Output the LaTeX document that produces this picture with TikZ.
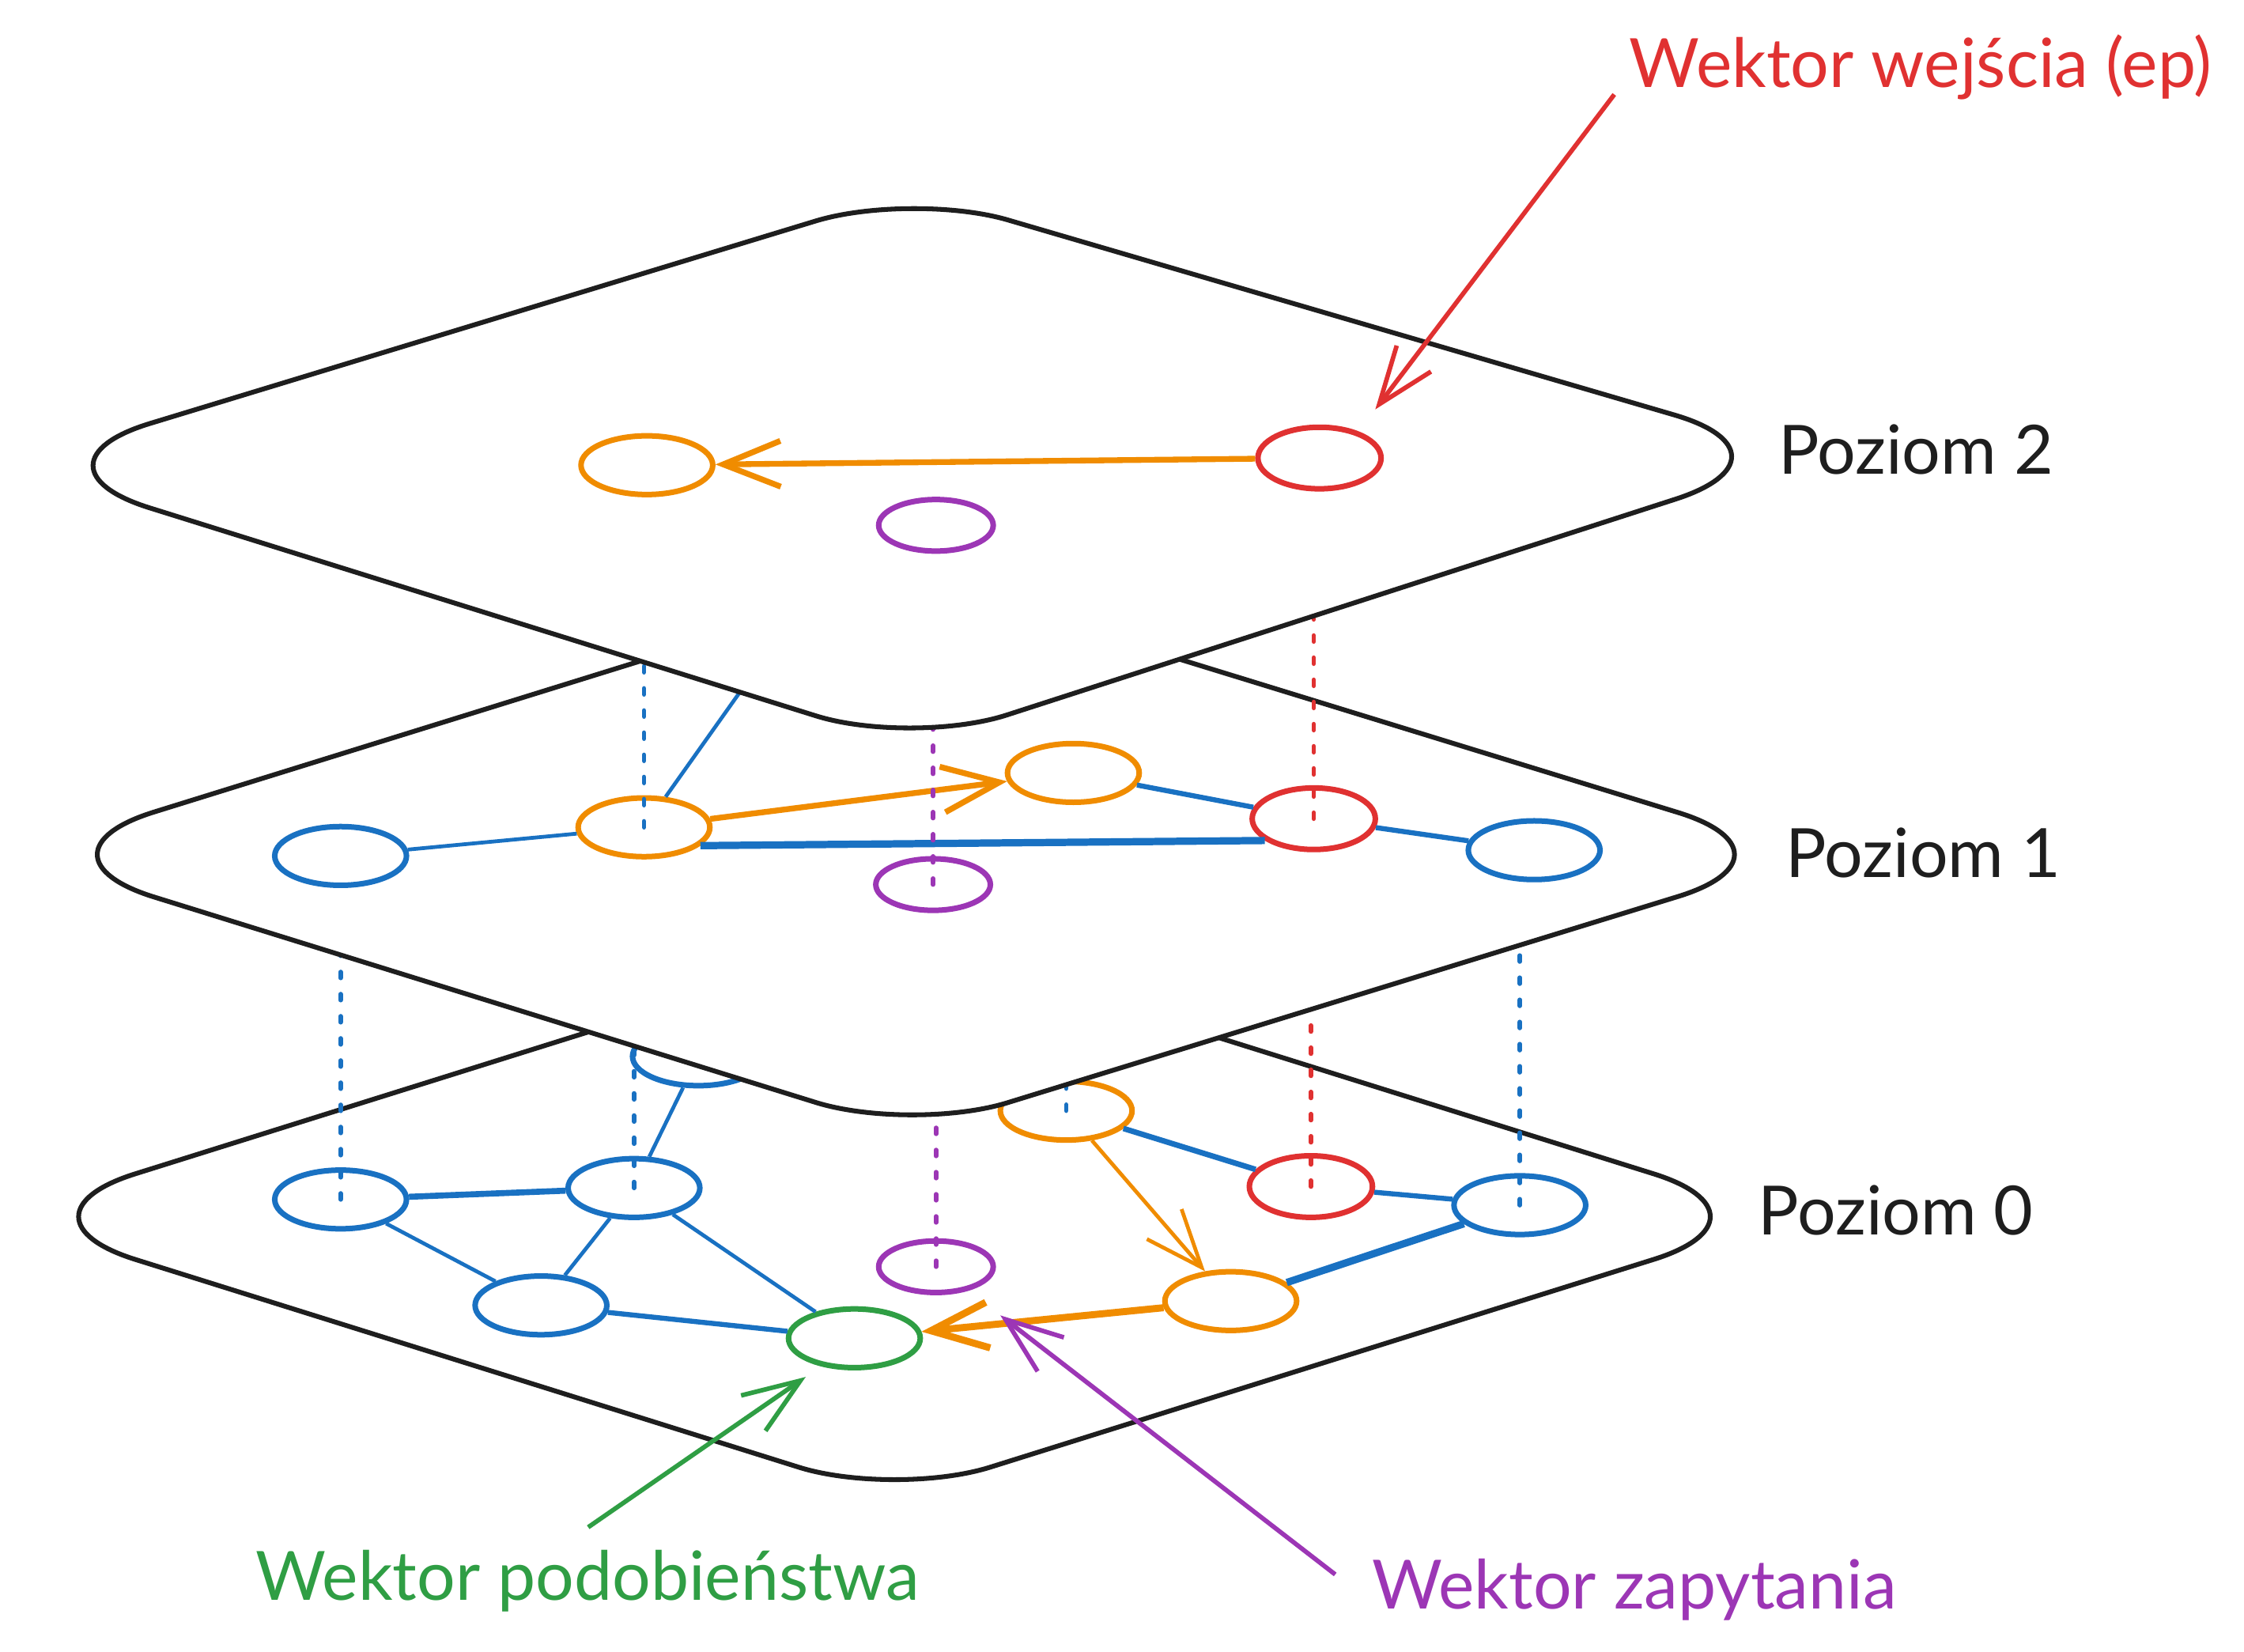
\documentclass[tikz,border=0pt]{standalone}
\usepackage{fontspec}
\setmainfont{Lato}
\usepackage{xcolor}
\usepackage{tikz}
\usetikzlibrary{arrows.meta,shapes.geometric,calc,backgrounds}
\definecolor{HInk}{HTML}{1E1E1E}
\definecolor{HBlue}{HTML}{1971C2}
\definecolor{HOrange}{HTML}{F08C00}
\definecolor{HRed}{HTML}{E03131}
\definecolor{HPurple}{HTML}{9C36B5}
\definecolor{HGreen}{HTML}{2F9E44}
\pgfdeclarelayer{lay0}
\pgfdeclarelayer{lay1}
\pgfsetlayers{lay0,lay1,main}

\begin{document}
\begin{tikzpicture}[
    x=0.01cm,y=-0.01cm,
    plane/.style={draw=HInk, fill=white, line width=0.95pt},
    side/.style={rounded corners=1cm},
    tip/.style={rounded corners=7mm},
    vec/.style={ellipse, draw, line width=1.1pt, minimum width=0.92cm, minimum height=0.41cm, inner sep=0pt},
    bvec/.style={vec, draw=HBlue},
    ovec/.style={vec, draw=HOrange},
    rvec/.style={vec, draw=HRed, minimum width=0.86cm, minimum height=0.43cm},
    gvec/.style={vec, draw=HGreen},
    pvec/.style={vec, draw=HPurple, minimum width=0.8cm, minimum height=0.36cm},
    link/.style={draw=HBlue, line width=0.75pt},
    strong/.style={link, line width=1.45pt},
    hop/.style={draw=HOrange, line width=1.15pt, -{Straight Barb[length=4mm,width=3.2mm]}},
    drop/.style={dash pattern=on 1.2pt off 3.2pt, line width=0.9pt, line cap=round},
    pointer/.style={line width=0.9pt, -{Straight Barb[length=4mm,width=3mm]}},
    note/.style={anchor=base west, inner sep=0pt, text=HInk, font=\fontsize{13.5}{16}\selectfont}
  ]
    \useasboundingbox (0,0) rectangle (1568,1154);

    % Poziom 2
    \draw[plane] ($(9,325)!0.5!(637,521)$) [side] -- (9,325) -- ($(9,325)!0.5!(637,134)$)
      [tip] -- (637,134) -- ($(637,134)!0.5!(1266,318)$)
      [side] -- (1266,318) -- ($(1266,318)!0.5!(637,521)$)
      [tip] -- (637,521) -- cycle;
    \node[ovec] (o2) at (452,325) {};
    \node[rvec] (r2) at (922,320) {};
    \node[pvec] (p2) at (654,367) {};
    \draw[hop] (r2) -- (o2);

    % Poziom 1
    \begin{pgfonlayer}{lay1}
    \draw[plane] ($(12,597)!0.5!(637,791)$) [side] -- (12,597) -- ($(12,597)!0.5!(637,403)$)
      [tip] -- (637,403) -- ($(637,403)!0.5!(1268,597)$)
      [side] -- (1268,597) -- ($(1268,597)!0.5!(637,791)$)
      [tip] -- (637,791) -- cycle;
    \node[bvec] (b1a) at (238,598) {};
    \node[ovec] (o1a) at (450,578) {};
    \node[ovec] (o1b) at (750,540) {};
    \node[rvec] (r1) at (918,572) {};
    \node[bvec] (b1b) at (1072,594) {};
    \node[pvec] (p1) at (652,618) {};
    \node[bvec] (b1h) at (555,430) {};
    \draw[link] (b1a) -- (o1a);
    \draw[strong] (o1a.-18) -- (r1.204);
    \draw[link, line width=1pt] (o1b) -- (r1);
    \draw[link, line width=1pt] (r1) -- (b1b);
    \draw[link] (o1a) -- (b1h);
    \draw[hop] (o1a) -- (o1b);
    \foreach \a/\b/\c in {o1a/o2/HBlue, p1/p2/HPurple, r1/r2/HRed}{\draw[drop, draw=\c] (\a.center) -- (\a.center |- \b.center);}
    \end{pgfonlayer}

    % Poziom 0
    \begin{pgfonlayer}{lay0}
    \draw[plane] ($(-1,850)!0.5!(625,1046)$) [side] -- (-1,850) -- ($(-1,850)!0.5!(625,654)$)
      [tip] -- (625,654) -- ($(625,654)!0.5!(1251,850)$)
      [side] -- (1251,850) -- ($(1251,850)!0.5!(625,1046)$)
      [tip] -- (625,1046) -- cycle;
    \node[bvec] (b0a) at (238,838) {};
    \node[bvec] (b0b) at (443,830) {};
    \node[bvec] (b0c) at (378,912) {};
    \node[bvec] (b0d) at (488,738) {};
    \node[gvec] (g0) at (597,935) {};
    \node[pvec] (p0) at (654,885) {};
    \node[ovec] (o0a) at (745,776) {};
    \node[rvec] (r0) at (916,829) {};
    \node[bvec] (b0e) at (1062,842) {};
    \node[ovec] (o0b) at (860,909) {};
    \draw[link, line width=1.2pt] (b0a) -- (b0b);
    \draw[link] (b0a) -- (b0c);
    \draw[link] (b0b) -- (b0c);
    \draw[link] (b0b) -- (b0d);
    \draw[link] (b0b) -- (g0);
    \draw[link, line width=1pt] (b0c) -- (g0);
    \draw[link, line width=1.1pt] (o0a) -- (r0);
    \draw[link, line width=1pt] (r0) -- (b0e);
    \draw[strong] (o0b) -- (b0e);
    \draw[hop, line width=0.75pt] (o0a) -- (o0b);
    \draw[hop, line width=1.4pt] (o0b) -- (g0);
    \foreach \a/\b/\c in {b0a/b1a/HBlue, b0b/o1a/HBlue, p0/p1/HPurple, o0a/o1b/HBlue, r0/r1/HRed, b0e/b1b/HBlue}{\draw[drop, draw=\c] (\a.center) -- (\a.center |- \b.center);}
    \end{pgfonlayer}

    % labels
    \node[note] (lv2) at (1242,331) {Poziom 2};
    \node[note] (lv1) at (1247,613) {Poziom 1};
    \node[note] (lv0) at (1228,863) {Poziom 0};

    \node[note, text=HRed] (ep) at (1138,61) {Wektor wejścia (ep)};
    \coordinate (epTail) at (1128,66);
    \coordinate (epTip) at (961,286);
    \draw[pointer, HRed] (epTail) -- (epTip);

    \node[note, text=HGreen] (sim) at (178,1118) {Wektor podobieństwa};
    \coordinate (simTail) at (411,1067);
    \coordinate (simTip) at (563,962);
    \draw[pointer, HGreen] (simTail) -- (simTip);

    \node[note, text=HPurple] (qry) at (958,1124) {Wektor zapytania};
    \coordinate (qryTail) at (933,1100);
    \coordinate (qryTip) at (699,919);
    \draw[pointer, HPurple] (qryTail) -- (qryTip);
  \end{tikzpicture}
\end{document}
